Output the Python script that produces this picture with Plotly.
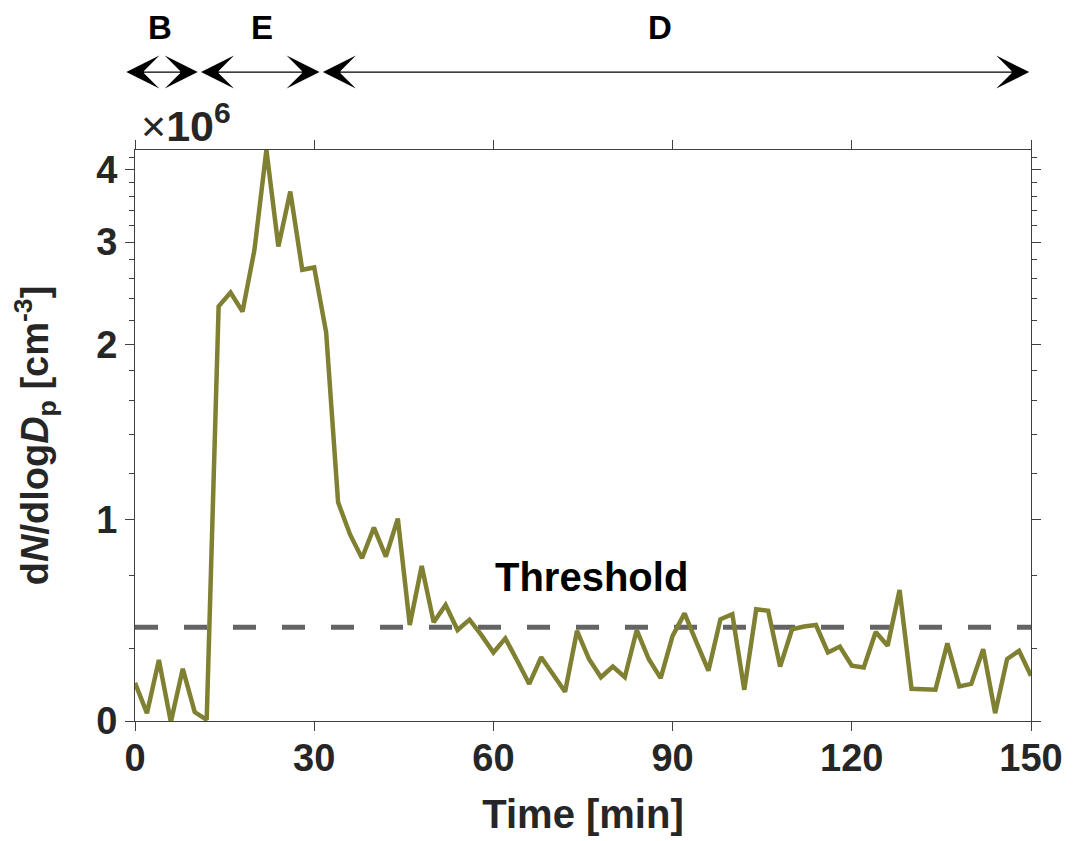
import plotly.graph_objects as go
import math

# ---------------- data (values in units of 10^6 cm^-3) ----------------
time_min = list(range(0, 151, 2))
conc = [0.523, 0.464, 0.573, 0.448, 0.553, 0.466, 0.452, 2.325, 2.457, 2.277,
        2.910, 4.32, 2.947, 3.664, 2.688, 2.713, 2.097, 1.070, 0.942, 0.857,
        0.968, 0.863, 1.003, 0.658, 0.831, 0.665, 0.712, 0.645, 0.672, 0.632,
        0.590, 0.624, 0.571, 0.521, 0.579, 0.540, 0.505, 0.643, 0.575, 0.535,
        0.558, 0.535, 0.645, 0.575, 0.533, 0.630, 0.689, 0.614, 0.549, 0.673,
        0.687, 0.509, 0.700, 0.696, 0.558, 0.647, 0.654, 0.658, 0.590, 0.604,
        0.560, 0.556, 0.640, 0.606, 0.756, 0.511, 0.509, 0.509, 0.612, 0.516,
        0.521, 0.598, 0.464, 0.575, 0.594, 0.538]
threshold = 0.652

x_ticks = [0, 30, 60, 90, 120, 150]
y_tick_vals = [0.4498, 1, 2, 3, 4]
y_tick_text = ["0", "1", "2", "3", "4"]
y_minor_vals = [0.6, 0.8, 1.2, 1.4, 1.6, 1.8, 2.2, 2.4, 2.6, 2.8,
                3.2, 3.4, 3.6, 3.8, 4.2]
y_range = [0.4498, 4.32]
x_range = [0, 150]

phase_labels = ["B", "E", "D"]
phase_start = [-1.7, 10.8, 31.2]
phase_end = [10.5, 30.9, 149.7]
phase_label_x = [4.2, 21.2, 87.9]

# ---------------- styling ----------------
LINE_COLOR = "rgb(128,128,51)"
TXT = "#262626"
AX = "#404040"
FONT = "Liberation Sans, Arial, sans-serif"

fig = go.Figure()
fig.add_trace(go.Scatter(
    x=[x_range[0], x_range[1]], y=[threshold, threshold], mode="lines",
    line=dict(color="rgb(100,100,100)", width=5, dash="23px,26px"),
    hoverinfo="skip", showlegend=False))
fig.add_trace(go.Scatter(
    x=time_min, y=conc, mode="lines",
    line=dict(color=LINE_COLOR, width=4.5), showlegend=False))

fig.update_layout(
    width=1067, height=833, autosize=False,
    margin=dict(l=127, r=37, t=142, b=107),
    plot_bgcolor="white", paper_bgcolor="white",
    font=dict(family=FONT, color=TXT),
    xaxis=dict(
        range=x_range, tickvals=x_ticks, ticks="outside", ticklen=9,
        tickwidth=1.2, tickcolor=AX, showline=True, linecolor=AX, linewidth=1.2,
        mirror="ticks", showgrid=False, zeroline=False, ticklabelstandoff=-6,
        tickfont=dict(size=38, family=FONT, color=TXT, weight="bold"),
        title=dict(text="Time [min]", standoff=22,
                   font=dict(size=40, family=FONT, color=TXT, weight="bold")),
    ),
    yaxis=dict(
        type="log", range=[math.log10(y_range[0]), math.log10(y_range[1])],
        tickmode="array", tickvals=y_tick_vals, ticktext=y_tick_text,
        ticks="outside", ticklen=9, tickwidth=1.2, tickcolor=AX,
        minor=dict(tickmode="array", tickvals=y_minor_vals, ticks="outside",
                   ticklen=5, tickwidth=1.2, tickcolor=AX, showgrid=False),
        showline=True, linecolor=AX, linewidth=1.2, mirror="ticks",
        showgrid=False, zeroline=False,
        tickfont=dict(size=38, family=FONT, color=TXT, weight="bold"),
        title=dict(text="d<i>N</i>/dlog<i>D</i><sub>p</sub> [cm<sup>-3</sup>]",
                   standoff=40,
                   font=dict(size=38, family=FONT, color=TXT, weight="bold")),
    ),
)

def to_frac(t):
    return (t - x_range[0]) / (x_range[1] - x_range[0])

arrow_y = 1.1364
label_y = 1.215
for lab, s, e, lx in zip(phase_labels, phase_start, phase_end, phase_label_x):
    fig.add_annotation(x=to_frac(e), y=arrow_y, ax=to_frac(s), ay=arrow_y,
                       xref="x domain", yref="y domain",
                       axref="x domain", ayref="y domain",
                       text="", showarrow=True, arrowhead=3, startarrowhead=3,
                       arrowside="end+start", arrowsize=5, startarrowsize=5,
                       arrowwidth=1.1, arrowcolor="black", standoff=0,
                       startstandoff=0)
    fig.add_annotation(x=to_frac(lx), y=label_y, xref="x domain", yref="y domain",
                       xanchor="center", yanchor="middle",
                       text=lab, showarrow=False,
                       font=dict(size=33, family=FONT, color="black", weight="bold"))

fig.add_annotation(x=0.004, y=1.047, xref="paper", yref="paper",
                   xanchor="left", yanchor="middle",
                   text="×<b>10<sup>6</sup></b>",
                   showarrow=False, font=dict(size=43, family=FONT, color=TXT))
fig.add_annotation(x=76.4, y=math.log10(0.795), xref="x", yref="y",
                   xanchor="center", yanchor="middle",
                   text="Threshold", showarrow=False,
                   font=dict(size=40, family=FONT, color="black", weight="bold"))

fig.write_html("out.html")
